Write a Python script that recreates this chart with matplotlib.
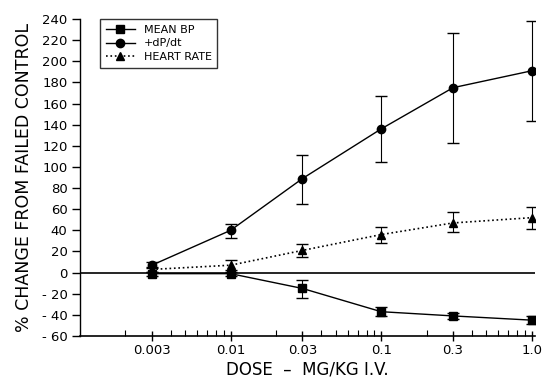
import matplotlib.pyplot as plt
import numpy as np

dose = [0.003, 0.01, 0.03, 0.1, 0.3, 1.0]

bp = [-1, -1, -15, -37, -41, -45]
bp_lo = [-3, -3, -24, -41, -44, -49]
bp_hi = [1, 1, -7, -33, -38, -41]

dpdt = [7, 40, 89, 136, 175, 191]
dpdt_lo = [4, 33, 65, 105, 123, 143]
dpdt_hi = [10, 46, 111, 167, 227, 238]

hr = [3, 7, 21, 36, 47, 52]
hr_lo = [1, 2, 15, 28, 38, 41]
hr_hi = [5, 12, 27, 43, 57, 62]

xticks = [0.003, 0.01, 0.03, 0.1, 0.3, 1.0]
xticklabels = ['0.003', '0.01', '0.03', '0.1', '0.3', '1.0']
yticks = list(range(-60, 241, 20))
yticklabels = [('- %d' % -v) if v < 0 else str(v) for v in yticks]


def err(v, lo, hi):
    v = np.array(v)
    return [v - np.array(lo), np.array(hi) - v]


plt.rcParams['font.family'] = 'DejaVu Sans'
fig = plt.figure(figsize=(5.45, 3.8), dpi=100)
ax = fig.add_axes([80 / 545, 44 / 380, 455 / 545, 317 / 380])

ax.axhline(0, color='k', lw=1.2, zorder=1)

# error bars first, then the lines with markers (these carry the legend)
ax.errorbar(dose, bp, yerr=err(bp, bp_lo, bp_hi), fmt='none', ecolor='k',
            capsize=4, elinewidth=0.8)
ax.errorbar(dose, dpdt, yerr=err(dpdt, dpdt_lo, dpdt_hi), fmt='none', ecolor='k',
            capsize=4, elinewidth=0.8)
ax.errorbar(dose, hr, yerr=err(hr, hr_lo, hr_hi), fmt='none', ecolor='k',
            capsize=4, elinewidth=0.8)
ax.plot(dose, bp, color='k', lw=1, marker='s', ms=5.5, label='MEAN BP')
ax.plot(dose, dpdt, color='k', lw=1, marker='o', ms=6, label='+dP/dt')
ax.plot(dose, hr, color='k', lw=1.2, ls=':', marker='^', ms=6, label='HEART RATE')

ax.set_xscale('log')
ax.set_xlim(0.001, 1.05)
ax.set_ylim(-60, 240)
ax.set_xticks(xticks)
ax.set_xticklabels(xticklabels)
ax.set_yticks(yticks)
ax.set_yticklabels(yticklabels)

for s in ['top', 'right']:
    ax.spines[s].set_visible(False)
ax.spines['left'].set_linewidth(1)
ax.spines['bottom'].set_linewidth(1.2)

ax.tick_params(axis='y', direction='out', length=6, labelsize=9.5, width=1, pad=3)
ax.tick_params(axis='x', which='major', direction='inout', length=7, labelsize=9.5, width=1, pad=2)
ax.tick_params(axis='x', which='minor', direction='in', length=4, width=0.8)

ax.set_xlabel('DOSE  \u2013  MG/KG I.V.', fontsize=12, labelpad=3)
ax.set_ylabel('% CHANGE FROM FAILED CONTROL', fontsize=12.5, labelpad=6)

leg = ax.legend(loc='upper left', bbox_to_anchor=(0.045, 1.0), borderaxespad=0,
                fontsize=8, frameon=True, fancybox=False, edgecolor='k',
                handlelength=2.6, borderpad=0.5, labelspacing=0.35)
leg.get_frame().set_linewidth(1)

fig.savefig('out.png', dpi=100)
